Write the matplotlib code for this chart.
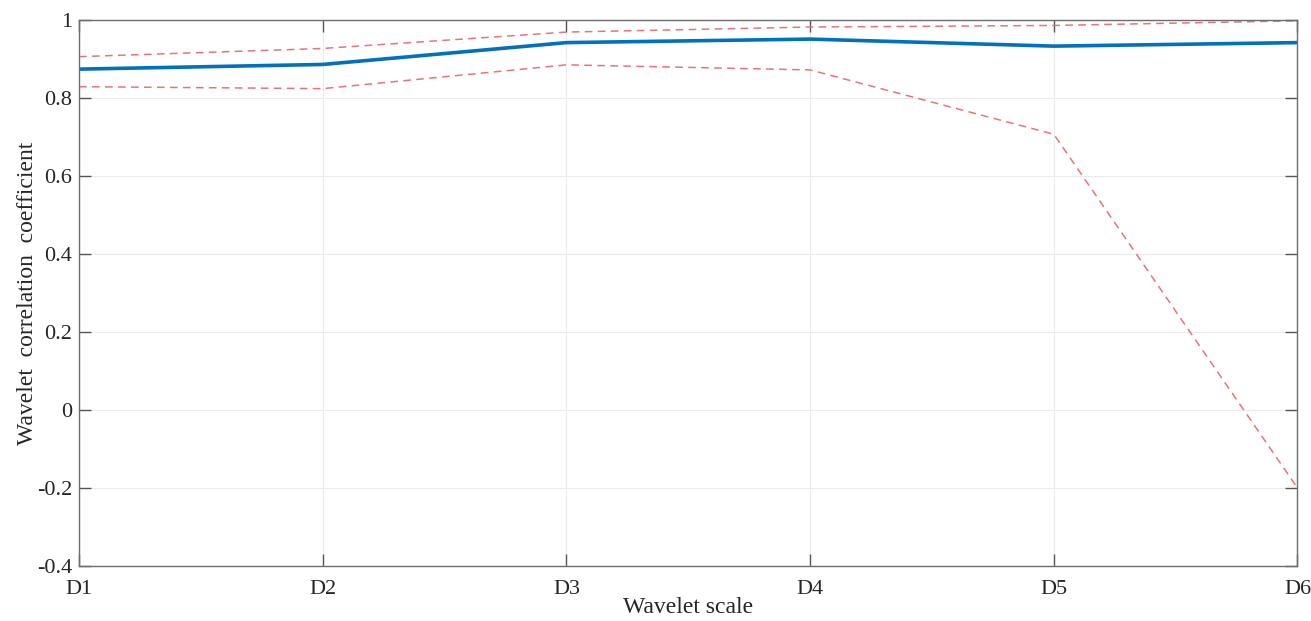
import matplotlib
matplotlib.use("Agg")
import matplotlib.pyplot as plt

scales = ["D1", "D2", "D3", "D4", "D5", "D6"]
wcoh = [0.874, 0.886, 0.942, 0.951, 0.933, 0.942]
upper = [0.906, 0.927, 0.969, 0.982, 0.986, 0.998]
lower = [0.829, 0.824, 0.885, 0.872, 0.707, -0.200]
yticks = [-0.4, -0.2, 0, 0.2, 0.4, 0.6, 0.8, 1]
ytick_labels = ["-0.4", "-0.2", "0", "0.2", "0.4", "0.6", "0.8", "1"]

plt.rcParams['font.family'] = ['Liberation Serif', 'DejaVu Serif']
fig = plt.figure(figsize=(13.11, 6.21), dpi=100)
ax = fig.add_axes([0.0603, 0.0886, 0.9294, 0.8792])

x = list(range(len(scales)))
ax.plot(x, upper, color='#e8737d', lw=1.1, ls=(0, (5, 3.5)))
ax.plot(x, lower, color='#e8737d', lw=1.1, ls=(0, (5, 3.5)))
ax.plot(x, wcoh, color='#0072bd', lw=2.6)

ax.set_xlim(0, len(scales) - 1)
ax.set_ylim(-0.4, 1)
ax.set_xticks(x)
ax.set_xticklabels(scales)
ax.set_yticks(yticks)
ax.set_yticklabels(ytick_labels)
ax.grid(True, color='#ebebeb', lw=0.8)
ax.tick_params(direction='in', top=True, right=True, length=8.5, width=1,
               color='#555555', labelsize=16, labelcolor='#262626')
ax.tick_params(axis='x', pad=10)
ax.tick_params(axis='y', pad=5)
for s in ax.spines.values():
    s.set_color('#6e6e6e')
    s.set_linewidth(1.0)
ax.set_xlabel("Wavelet scale", fontsize=17, color='#262626', labelpad=-1)
ax.set_ylabel("Wavelet  correlation  coefficient", fontsize=17, color='#262626', labelpad=-1)

fig.savefig("out.png", dpi=100)
